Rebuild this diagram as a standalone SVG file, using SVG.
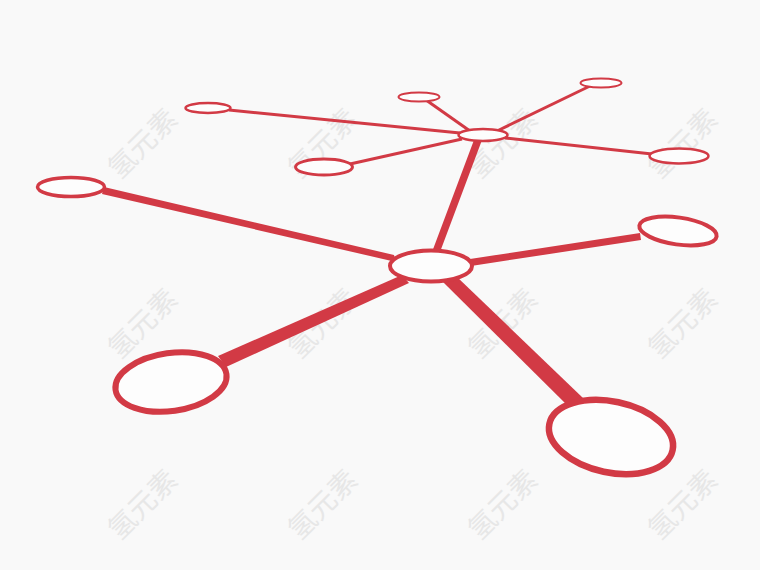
<svg xmlns="http://www.w3.org/2000/svg" width="760" height="570" viewBox="0 0 760 570">
<style>
.wm{font-family:"Noto Sans CJK SC","Noto Sans",sans-serif;font-size:28px;fill:#e7e7e7;text-anchor:middle;dominant-baseline:central}
.c{stroke:#d23a45;stroke-linecap:butt;fill:none}
.n{fill:#fdfdfd;stroke:#d23a45}
</style>
<rect width="760" height="570" fill="#f9f9f9"/>
<g id="watermarks">
<text class="wm" transform="translate(141,142) rotate(-45)">氢元素</text>
<text class="wm" transform="translate(321,142) rotate(-45)">氢元素</text>
<text class="wm" transform="translate(501,142) rotate(-45)">氢元素</text>
<text class="wm" transform="translate(681,142) rotate(-45)">氢元素</text>
<text class="wm" transform="translate(141,322) rotate(-45)">氢元素</text>
<text class="wm" transform="translate(321,322) rotate(-45)">氢元素</text>
<text class="wm" transform="translate(501,322) rotate(-45)">氢元素</text>
<text class="wm" transform="translate(681,322) rotate(-45)">氢元素</text>
<text class="wm" transform="translate(141,503) rotate(-45)">氢元素</text>
<text class="wm" transform="translate(321,503) rotate(-45)">氢元素</text>
<text class="wm" transform="translate(501,503) rotate(-45)">氢元素</text>
<text class="wm" transform="translate(681,503) rotate(-45)">氢元素</text>
</g>
<g id="connectors">
<line class="c" x1="470" y1="131" x2="426" y2="100" stroke-width="3"/>
<line class="c" x1="497" y1="131" x2="590" y2="86" stroke-width="3"/>
<line class="c" x1="505" y1="138" x2="652" y2="154" stroke-width="3"/>
<line class="c" x1="460" y1="133" x2="229" y2="110" stroke-width="3"/>
<line class="c" x1="462" y1="139" x2="350" y2="164" stroke-width="3"/>
<polygon fill="#d23a45" points="474,140 482,140 440,252 432,252"/>
<polygon fill="#d23a45" points="394,255 396,262 102,194 104,187"/>
<polygon fill="#d23a45" points="470,259 471,266 641,240 640,233"/>
<polygon fill="#d23a45" points="402,275 409,283 226,367 218,356"/>
<polygon fill="#d23a45" points="443,282 456,276 583,398 570,408"/>
</g>
<g id="node-a"><ellipse class="n" cx="419" cy="97" rx="20.5" ry="4.5" stroke-width="2"/></g>
<g id="node-b"><ellipse class="n" cx="601" cy="83" rx="20.5" ry="4.5" stroke-width="2"/></g>
<g id="node-hub1"><ellipse class="n" cx="483" cy="135" rx="24.5" ry="6" stroke-width="2.5"/></g>
<g id="node-c"><ellipse class="n" cx="679" cy="156" rx="29.5" ry="7.5" stroke-width="2.5"/></g>
<g id="node-d"><ellipse class="n" cx="208" cy="108" rx="22.5" ry="5" stroke-width="2.5"/></g>
<g id="node-e"><ellipse class="n" cx="324" cy="167" rx="28.5" ry="8" stroke-width="3"/></g>
<g id="node-f"><ellipse class="n" cx="71" cy="187" rx="33.5" ry="9.5" stroke-width="3.5"/></g>
<g id="node-hub2"><ellipse class="n" cx="431" cy="266" rx="41" ry="15.5" stroke-width="4"/></g>
<g id="node-g"><ellipse class="n" cx="678" cy="231" rx="39" ry="13.5" stroke-width="4" transform="rotate(8 678 231)"/></g>
<g id="node-i"><ellipse class="n" cx="171" cy="382" rx="56" ry="29" stroke-width="6" transform="rotate(-8 171 382)"/></g>
<g id="node-j"><ellipse class="n" cx="611" cy="437" rx="63" ry="35.5" stroke-width="6.5" transform="rotate(12 611 437)"/></g>
</svg>
